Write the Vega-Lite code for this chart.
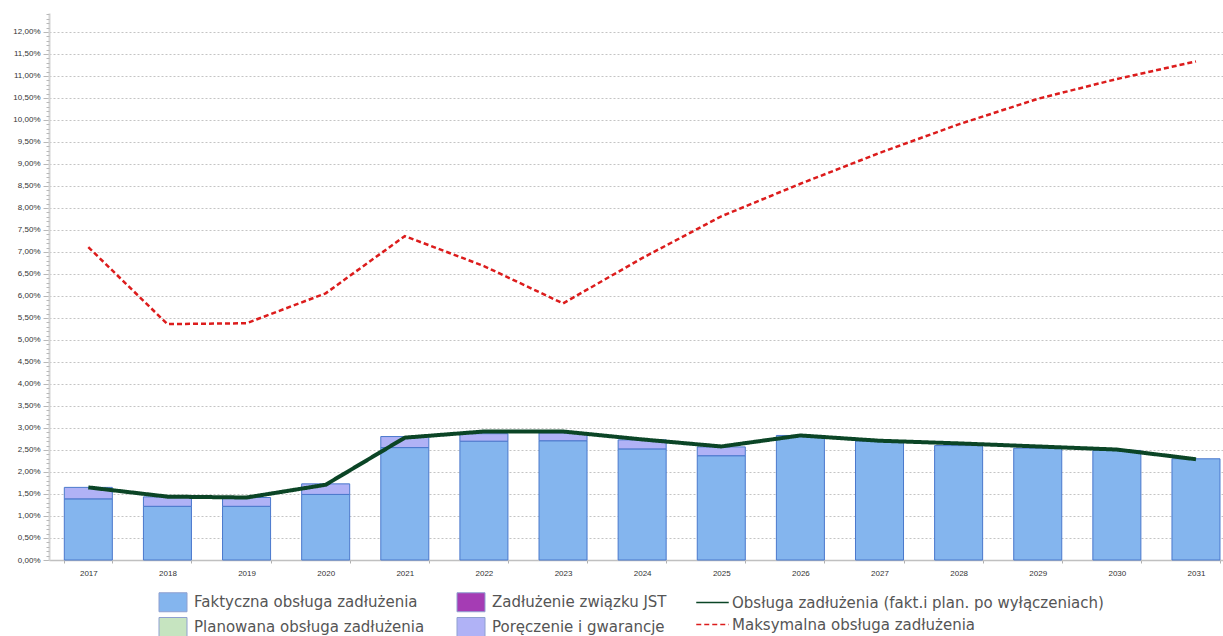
{
  "$schema": "https://vega.github.io/schema/vega-lite/v6.json",
  "autosize": {"type": "none"},
  "width": 1174,
  "height": 547,
  "padding": {"left": 49, "top": 13, "right": 0, "bottom": 76},
  "background": "white",
  "config": {
    "locale": {"number": {"decimal": ",", "thousands": " ", "grouping": [3], "currency": ["", " zł"]}},
    "view": {"stroke": null},
    "font": "Liberation Sans"
  },
  "datasets": {
    "slupki": [
      {"rok": "2017", "seria": "Faktyczna obsługa zadłużenia", "wartosc": 0.0139},
      {"rok": "2017", "seria": "Poręczenie i gwarancje", "wartosc": 0.0026},
      {"rok": "2018", "seria": "Faktyczna obsługa zadłużenia", "wartosc": 0.0122},
      {"rok": "2018", "seria": "Poręczenie i gwarancje", "wartosc": 0.00215},
      {"rok": "2019", "seria": "Faktyczna obsługa zadłużenia", "wartosc": 0.0122},
      {"rok": "2019", "seria": "Poręczenie i gwarancje", "wartosc": 0.0020},
      {"rok": "2020", "seria": "Faktyczna obsługa zadłużenia", "wartosc": 0.0149},
      {"rok": "2020", "seria": "Poręczenie i gwarancje", "wartosc": 0.0024},
      {"rok": "2021", "seria": "Faktyczna obsługa zadłużenia", "wartosc": 0.02555},
      {"rok": "2021", "seria": "Poręczenie i gwarancje", "wartosc": 0.0025},
      {"rok": "2022", "seria": "Faktyczna obsługa zadłużenia", "wartosc": 0.0270},
      {"rok": "2022", "seria": "Poręczenie i gwarancje", "wartosc": 0.0017},
      {"rok": "2023", "seria": "Faktyczna obsługa zadłużenia", "wartosc": 0.0271},
      {"rok": "2023", "seria": "Poręczenie i gwarancje", "wartosc": 0.0018},
      {"rok": "2024", "seria": "Faktyczna obsługa zadłużenia", "wartosc": 0.02525},
      {"rok": "2024", "seria": "Poręczenie i gwarancje", "wartosc": 0.00205},
      {"rok": "2025", "seria": "Faktyczna obsługa zadłużenia", "wartosc": 0.0237},
      {"rok": "2025", "seria": "Poręczenie i gwarancje", "wartosc": 0.0020},
      {"rok": "2026", "seria": "Faktyczna obsługa zadłużenia", "wartosc": 0.0283},
      {"rok": "2027", "seria": "Faktyczna obsługa zadłużenia", "wartosc": 0.0270},
      {"rok": "2028", "seria": "Faktyczna obsługa zadłużenia", "wartosc": 0.0260},
      {"rok": "2029", "seria": "Faktyczna obsługa zadłużenia", "wartosc": 0.0254},
      {"rok": "2030", "seria": "Faktyczna obsługa zadłużenia", "wartosc": 0.0249},
      {"rok": "2031", "seria": "Faktyczna obsługa zadłużenia", "wartosc": 0.0230}
    ],
    "obsluga": [
      {"rok": "2017", "seria": "Obsługa zadłużenia (fakt.i plan. po wyłączeniach)", "wartosc": 0.0165},
      {"rok": "2018", "seria": "Obsługa zadłużenia (fakt.i plan. po wyłączeniach)", "wartosc": 0.0144},
      {"rok": "2019", "seria": "Obsługa zadłużenia (fakt.i plan. po wyłączeniach)", "wartosc": 0.0142},
      {"rok": "2020", "seria": "Obsługa zadłużenia (fakt.i plan. po wyłączeniach)", "wartosc": 0.0171},
      {"rok": "2021", "seria": "Obsługa zadłużenia (fakt.i plan. po wyłączeniach)", "wartosc": 0.0278},
      {"rok": "2022", "seria": "Obsługa zadłużenia (fakt.i plan. po wyłączeniach)", "wartosc": 0.0292},
      {"rok": "2023", "seria": "Obsługa zadłużenia (fakt.i plan. po wyłączeniach)", "wartosc": 0.0292},
      {"rok": "2024", "seria": "Obsługa zadłużenia (fakt.i plan. po wyłączeniach)", "wartosc": 0.0274},
      {"rok": "2025", "seria": "Obsługa zadłużenia (fakt.i plan. po wyłączeniach)", "wartosc": 0.0258},
      {"rok": "2026", "seria": "Obsługa zadłużenia (fakt.i plan. po wyłączeniach)", "wartosc": 0.0283},
      {"rok": "2027", "seria": "Obsługa zadłużenia (fakt.i plan. po wyłączeniach)", "wartosc": 0.0271},
      {"rok": "2028", "seria": "Obsługa zadłużenia (fakt.i plan. po wyłączeniach)", "wartosc": 0.0265},
      {"rok": "2029", "seria": "Obsługa zadłużenia (fakt.i plan. po wyłączeniach)", "wartosc": 0.0258},
      {"rok": "2030", "seria": "Obsługa zadłużenia (fakt.i plan. po wyłączeniach)", "wartosc": 0.0251},
      {"rok": "2031", "seria": "Obsługa zadłużenia (fakt.i plan. po wyłączeniach)", "wartosc": 0.0229}
    ],
    "maksymalna": [
      {"rok": "2017", "seria": "Maksymalna obsługa zadłużenia", "wartosc": 0.0711},
      {"rok": "2018", "seria": "Maksymalna obsługa zadłużenia", "wartosc": 0.0536},
      {"rok": "2019", "seria": "Maksymalna obsługa zadłużenia", "wartosc": 0.0538},
      {"rok": "2020", "seria": "Maksymalna obsługa zadłużenia", "wartosc": 0.0606},
      {"rok": "2021", "seria": "Maksymalna obsługa zadłużenia", "wartosc": 0.0736},
      {"rok": "2022", "seria": "Maksymalna obsługa zadłużenia", "wartosc": 0.0668},
      {"rok": "2023", "seria": "Maksymalna obsługa zadłużenia", "wartosc": 0.0583},
      {"rok": "2024", "seria": "Maksymalna obsługa zadłużenia", "wartosc": 0.0686},
      {"rok": "2025", "seria": "Maksymalna obsługa zadłużenia", "wartosc": 0.0781},
      {"rok": "2026", "seria": "Maksymalna obsługa zadłużenia", "wartosc": 0.0855},
      {"rok": "2027", "seria": "Maksymalna obsługa zadłużenia", "wartosc": 0.0925},
      {"rok": "2028", "seria": "Maksymalna obsługa zadłużenia", "wartosc": 0.0990},
      {"rok": "2029", "seria": "Maksymalna obsługa zadłużenia", "wartosc": 0.1048},
      {"rok": "2030", "seria": "Maksymalna obsługa zadłużenia", "wartosc": 0.1093},
      {"rok": "2031", "seria": "Maksymalna obsługa zadłużenia", "wartosc": 0.1133}
    ]
  },
  "resolve": {"axis": {"y": "independent"}},
  "encoding": {
    "x": {
      "field": "rok",
      "type": "ordinal",
      "scale": {"type": "band", "paddingInner": 0.393, "paddingOuter": 0.1157, "align": 0.836},
      "axis": {
        "title": null,
        "labelAngle": 0,
        "labelFont": "Liberation Sans",
        "labelFontSize": 8,
        "labelColor": "#333333",
        "labelPadding": 6,
        "tickBand": "extent",
        "tickSize": 3,
        "tickColor": "#b0b0b0",
        "domainColor": "#c0c0c0",
        "domainWidth": 1.5,
        "grid": false
      }
    }
  },
  "layer": [
    {
      "data": {"name": "slupki"},
      "mark": {"type": "bar", "stroke": "#4a78cc", "strokeWidth": 1},
      "encoding": {
        "y": {
          "field": "wartosc",
          "type": "quantitative",
          "stack": "zero",
          "scale": {"domain": [0, 0.1243], "nice": false, "zero": true},
          "axis": {
            "title": null,
            "orient": "left",
            "values": [0, 0.005, 0.01, 0.015, 0.02, 0.025, 0.03, 0.035, 0.04, 0.045, 0.05, 0.055, 0.06, 0.065, 0.07, 0.075, 0.08, 0.085, 0.09, 0.095, 0.1, 0.105, 0.11, 0.115, 0.12],
            "format": ".2%",
            "labelOverlap": false,
            "labelFont": "Liberation Sans",
            "labelFontSize": 8,
            "labelColor": "#333333",
            "labelPadding": 3,
            "tickSize": 6,
            "tickColor": "#b8b8b8",
            "domainColor": "#d4d4d4",
            "domainWidth": 2,
            "grid": true,
            "gridColor": "#c4c4c4",
            "gridDash": [2, 2],
            "gridWidth": 1
          }
        },
        "order": {"field": "seria", "sort": "ascending"},
        "fill": {
          "field": "seria",
          "type": "nominal",
          "scale": {
            "domain": ["Faktyczna obsługa zadłużenia", "Planowana obsługa zadłużenia", "Zadłużenie związku JST", "Poręczenie i gwarancje"],
            "range": ["#84b5ee", "#c6e4c0", "#a53cb4", "#b0b2f6"]
          },
          "legend": {
            "title": null,
            "orient": "none",
            "legendX": 111,
            "legendY": 576,
            "columns": 2,
            "columnPadding": 30,
            "rowPadding": 0,
            "symbolType": "M-1.12,-0.76H1.12V0.76H-1.12Z",
            "symbolSize": 625,
            "symbolStrokeWidth": 1,
            "symbolStrokeColor": "#8fa0d0",
            "labelFont": "DejaVu Sans",
            "labelFontSize": 15,
            "labelColor": "#555555",
            "labelOffset": 8,
            "labelLimit": 0
          }
        }
      }
    },
    {
      "data": {"name": "maksymalna"},
      "mark": {"type": "line", "strokeWidth": 2.5},
      "encoding": {
        "y": {
          "field": "wartosc",
          "type": "quantitative",
          "axis": {
            "title": null,
            "orient": "left",
            "values": [0.001, 0.002, 0.003, 0.004, 0.006, 0.007, 0.008, 0.009, 0.011, 0.012, 0.013, 0.014, 0.016, 0.017, 0.018, 0.019, 0.021, 0.022, 0.023, 0.024, 0.026, 0.027, 0.028, 0.029, 0.031, 0.032, 0.033, 0.034, 0.036, 0.037, 0.038, 0.039, 0.041, 0.042, 0.043, 0.044, 0.046, 0.047, 0.048, 0.049, 0.051, 0.052, 0.053, 0.054, 0.056, 0.057, 0.058, 0.059, 0.061, 0.062, 0.063, 0.064, 0.066, 0.067, 0.068, 0.069, 0.071, 0.072, 0.073, 0.074, 0.076, 0.077, 0.078, 0.079, 0.081, 0.082, 0.083, 0.084, 0.086, 0.087, 0.088, 0.089, 0.091, 0.092, 0.093, 0.094, 0.096, 0.097, 0.098, 0.099, 0.101, 0.102, 0.103, 0.104, 0.106, 0.107, 0.108, 0.109, 0.111, 0.112, 0.113, 0.114, 0.116, 0.117, 0.118, 0.119, 0.121, 0.122, 0.123, 0.124],
            "labels": false,
            "grid": false,
            "domain": false,
            "tickSize": 3,
            "tickColor": "#b8b8b8"
          }
        },
        "stroke": {
          "field": "seria",
          "type": "nominal",
          "scale": {
            "domain": ["Obsługa zadłużenia (fakt.i plan. po wyłączeniach)", "Maksymalna obsługa zadłużenia"],
            "range": ["#0b4526", "#dc1c1c"]
          },
          "legend": {
            "title": null,
            "orient": "none",
            "legendX": 650,
            "legendY": 576,
            "rowPadding": 0,
            "symbolType": "M-1.3,0H1.3",
            "symbolSize": 625,
            "symbolStrokeWidth": 1.5,
            "labelFont": "DejaVu Sans",
            "labelFontSize": 15,
            "labelColor": "#555555",
            "labelOffset": 6,
            "labelLimit": 0
          }
        },
        "strokeDash": {
          "field": "seria",
          "type": "nominal",
          "scale": {
            "domain": ["Obsługa zadłużenia (fakt.i plan. po wyłączeniach)", "Maksymalna obsługa zadłużenia"],
            "range": [[1, 0], [5, 3]]
          },
          "legend": {
            "title": null,
            "orient": "none",
            "legendX": 650,
            "legendY": 576,
            "rowPadding": 0,
            "symbolType": "M-1.3,0H1.3",
            "symbolSize": 625,
            "symbolStrokeWidth": 1.5,
            "labelFont": "DejaVu Sans",
            "labelFontSize": 15,
            "labelColor": "#555555",
            "labelOffset": 6,
            "labelLimit": 0
          }
        }
      }
    },
    {
      "data": {"name": "obsluga"},
      "mark": {"type": "line", "strokeWidth": 4},
      "encoding": {
        "y": {"field": "wartosc", "type": "quantitative", "axis": null},
        "stroke": {"field": "seria", "type": "nominal"},
        "strokeDash": {"field": "seria", "type": "nominal"}
      }
    }
  ]
}
